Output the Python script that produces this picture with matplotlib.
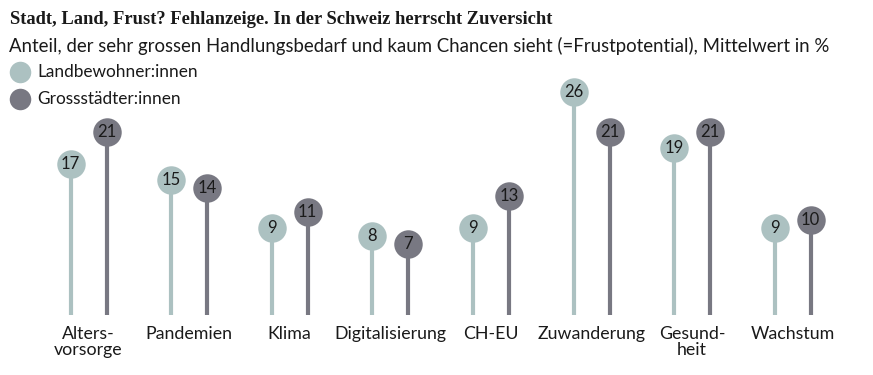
import matplotlib.pyplot as plt

# data
categories = ["Alters-\nvorsorge", "Pandemien", "Klima", "Digitalisierung", "CH-EU",
              "Zuwanderung", "Gesund-\nheit", "Wachstum"]
land = [17, 15, 9, 8, 9, 26, 19, 9]
stadt = [21, 14, 11, 7, 13, 21, 21, 10]
series_names = ["Landbewohner:innen", "Grossstädter:innen"]

LIGHT = "#acc1c1"
DARK = "#787882"
TEXT = "#1a1a1a"
SANS = ["Lato", "DejaVu Sans"]

W, H = 873, 375
fig = plt.figure(figsize=(W / 100, H / 100), dpi=100)
ax = fig.add_axes([0, 0, 1, 1])

# pixel layout: group centre px = 88.5 + 100.6*i, value 0 at y=300px, 8 px per unit
ax.set_xlim((0 - 88.5) / 100.6, (W - 88.5) / 100.6)
ax.set_ylim(-(H - 300) / 8, 300 / 8)
ax.axis("off")

off = 18 / 100.6
stem_bottom = -1.9
for i, (a, b) in enumerate(zip(land, stadt)):
    for x, v, c in ((i - off, a, LIGHT), (i + off, b, DARK)):
        ax.plot([x, x], [stem_bottom, v], color=c, lw=3, solid_capstyle="butt", zorder=1)
        ax.plot(x, v, "o", ms=20.5, color=c, mec="none", zorder=2)
        ax.text(x, v, str(v), ha="center", va="center", fontsize=12,
                color=TEXT, family=SANS, zorder=3)
    ax.text(i, -3.2, categories[i], ha="center", va="top", fontsize=12.8,
            color=TEXT, family=SANS, linespacing=1.0)

# title, subtitle, legend
fig.text(10 / W, 1 - 19 / H, "Stadt, Land, Frust? Fehlanzeige. In der Schweiz herrscht Zuversicht",
         ha="left", va="center", fontsize=13.3, fontweight="bold",
         family=["Liberation Serif", "DejaVu Serif"], color=TEXT)
fig.text(9 / W, 1 - 46 / H,
         "Anteil, der sehr grossen Handlungsbedarf und kaum Chancen sieht (=Frustpotential), Mittelwert in %",
         ha="left", va="center", fontsize=13.4, family=SANS, color=TEXT)
for k, (name, c) in enumerate(zip(series_names, (LIGHT, DARK))):
    yy = 1 - (72 + 27 * k) / H
    fig.add_artist(plt.Line2D([20 / W], [yy], marker="o", ms=15.5, color=c, mec="none",
                              transform=fig.transFigure))
    fig.text(37 / W, yy, name, ha="left", va="center", fontsize=12.4, family=SANS, color=TEXT)

fig.savefig("out.png", dpi=100, facecolor="white")
